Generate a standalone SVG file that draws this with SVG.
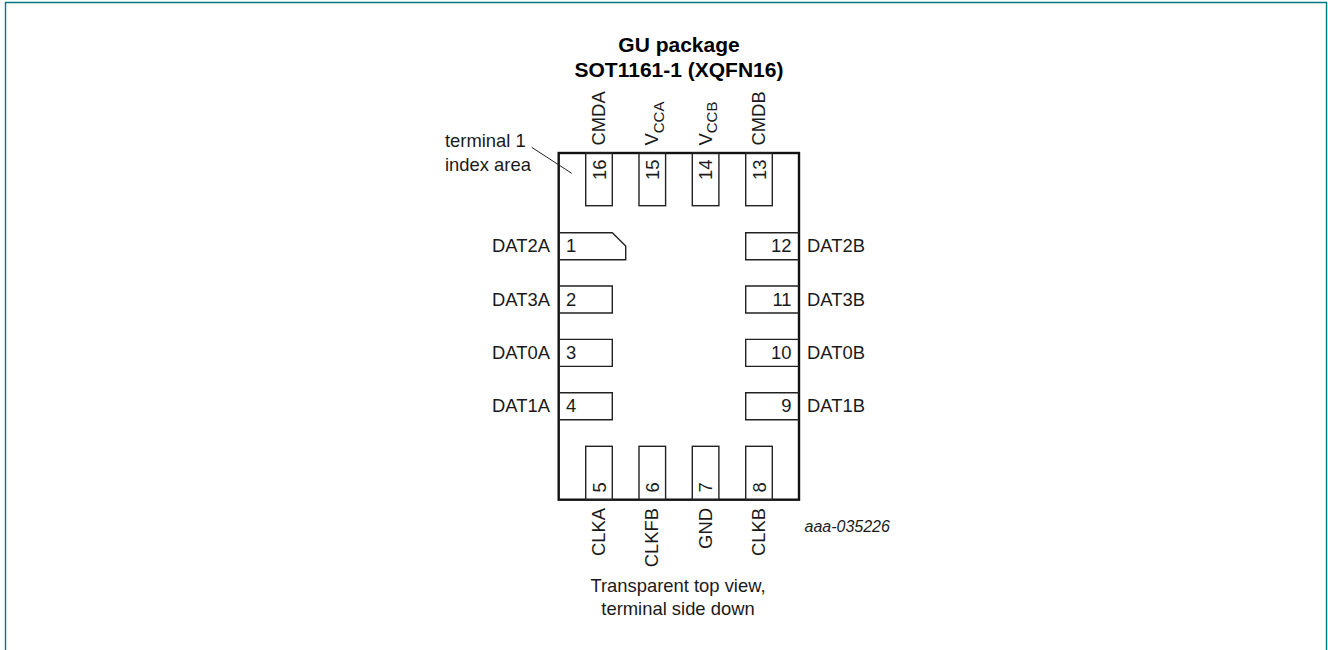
<svg xmlns="http://www.w3.org/2000/svg" width="1328" height="650" viewBox="0 0 1328 650">
<style>
text{font-family:"Liberation Sans",Arial,sans-serif;font-size:18.4px;fill:#1a1a1a}
.b{font-weight:bold;font-size:21px;fill:#000}
.m{text-anchor:middle}
.e{text-anchor:end}
.s{font-size:15px}
.i{font-style:italic;font-size:16px}
.pin{fill:none;stroke:#222;stroke-width:1.4}
.chip{fill:none;stroke:#111;stroke-width:2.4}
</style>
<rect width="1328" height="650" fill="#fff"/>
<path d="M5.5 650V2.5H1326.5V650" fill="none" stroke="#00797f" stroke-width="1.4"/>
<g id="title"><text class="b m" x="679" y="51.8">GU package</text><text class="b m" x="679" y="77.3">SOT1161-1 (XQFN16)</text></g>
<g id="package"><rect class="chip" x="558.7" y="153" width="240.3" height="346.7"/></g>
<g id="connectors"><path d="M531.7 147.3L571.7 173.3" fill="none" stroke="#222" stroke-width="1"/></g>
<g id="index-label"><text x="445" y="147">terminal 1</text><text x="445" y="170.7">index area</text></g>
<g id="pin16"><rect class="pin" x="585.7" y="153" width="26.6" height="52.7"/><text transform="translate(605.5,180) rotate(-90)">16</text><text transform="translate(605,145.5) rotate(-90)">CMDA</text></g>
<g id="pin15"><rect class="pin" x="639" y="153" width="26.6" height="52.7"/><text transform="translate(659,180) rotate(-90)">15</text><text transform="translate(658.4,145.5) rotate(-90)">V<tspan class="s" dy="5.5">CCA</tspan></text></g>
<g id="pin14"><rect class="pin" x="692.3" y="153" width="26.6" height="52.7"/><text transform="translate(712.3,180) rotate(-90)">14</text><text transform="translate(711.8,145.5) rotate(-90)">V<tspan class="s" dy="5.5">CCB</tspan></text></g>
<g id="pin13"><rect class="pin" x="745.7" y="153" width="26.6" height="52.7"/><text transform="translate(765.7,180) rotate(-90)">13</text><text transform="translate(765.2,145.5) rotate(-90)">CMDB</text></g>
<g id="pin1"><path class="pin" d="M558.7 232.7H612.3L625.7 246V259.7H558.7"/><text x="566" y="252.2">1</text><text class="e" x="550" y="252.2">DAT2A</text></g>
<g id="pin2"><path class="pin" d="M558.7 286H612.3V313H558.7"/><text x="566" y="305.5">2</text><text class="e" x="550" y="305.5">DAT3A</text></g>
<g id="pin3"><path class="pin" d="M558.7 339.4H612.3V366.4H558.7"/><text x="566" y="358.8">3</text><text class="e" x="550" y="358.8">DAT0A</text></g>
<g id="pin4"><path class="pin" d="M558.7 392.7H612.3V419.7H558.7"/><text x="566" y="412">4</text><text class="e" x="550" y="412">DAT1A</text></g>
<g id="pin12"><path class="pin" d="M799 232.7H745.7V259.7H799"/><text class="e" x="791.5" y="252.2">12</text><text x="807" y="252.2">DAT2B</text></g>
<g id="pin11"><path class="pin" d="M799 286H745.7V313H799"/><text class="e" x="791.5" y="305.5">11</text><text x="807" y="305.5">DAT3B</text></g>
<g id="pin10"><path class="pin" d="M799 339.4H745.7V366.4H799"/><text class="e" x="791.5" y="358.8">10</text><text x="807" y="358.8">DAT0B</text></g>
<g id="pin9"><path class="pin" d="M799 392.7H745.7V419.7H799"/><text class="e" x="791.5" y="412">9</text><text x="807" y="412">DAT1B</text></g>
<g id="pin5"><rect class="pin" x="585.7" y="446.3" width="26.6" height="53.4"/><text transform="translate(605.5,492.5) rotate(-90)">5</text><text class="e" transform="translate(605,508) rotate(-90)">CLKA</text></g>
<g id="pin6"><rect class="pin" x="639" y="446.3" width="26.6" height="53.4"/><text transform="translate(659,492.5) rotate(-90)">6</text><text class="e" transform="translate(658.4,508) rotate(-90)">CLKFB</text></g>
<g id="pin7"><rect class="pin" x="692.3" y="446.3" width="26.6" height="53.4"/><text transform="translate(712.3,492.5) rotate(-90)">7</text><text class="e" transform="translate(711.8,508) rotate(-90)">GND</text></g>
<g id="pin8"><rect class="pin" x="745.7" y="446.3" width="26.6" height="53.4"/><text transform="translate(765.7,492.5) rotate(-90)">8</text><text class="e" transform="translate(765.2,508) rotate(-90)">CLKB</text></g>
<text class="i" x="804.5" y="531.5">aaa-035226</text>
<g id="note"><text class="m" x="678" y="591.7">Transparent top view,</text><text class="m" x="678" y="614.5">terminal side down</text></g>
</svg>
